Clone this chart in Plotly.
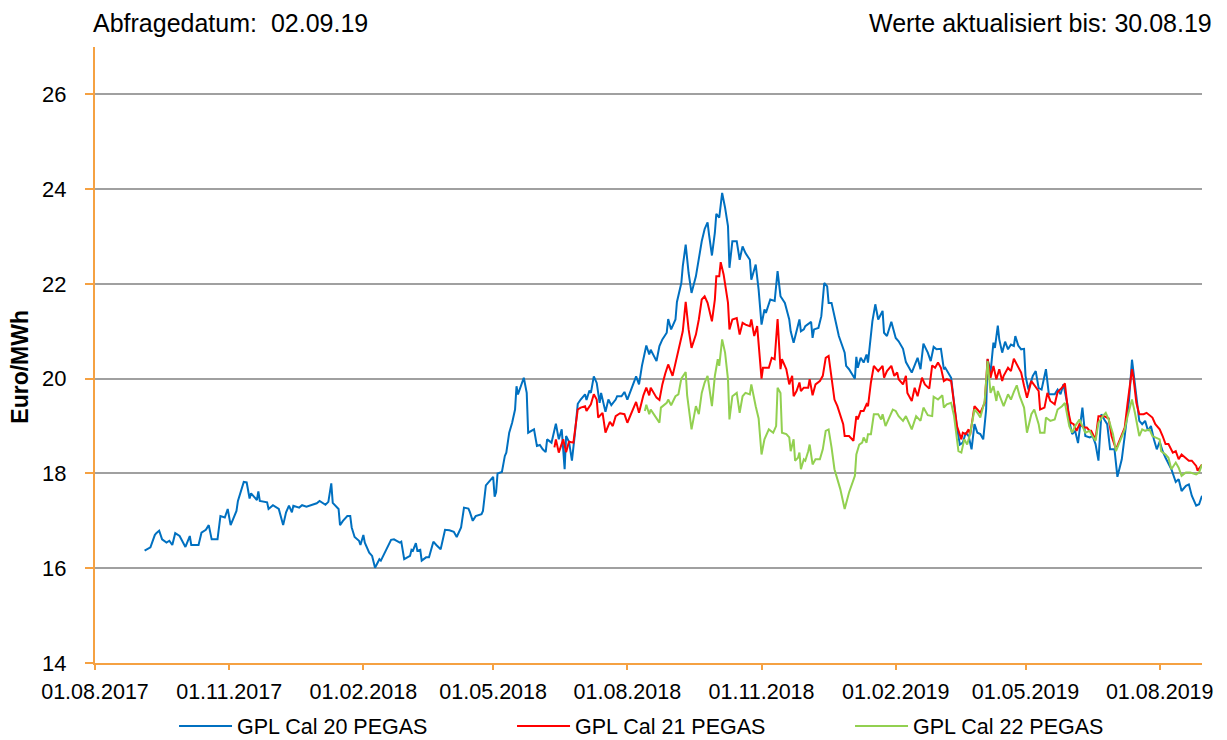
import pandas as pd
import plotly.graph_objects as go

# Days since 01.08.2017 and prices (Euro/MWh)
START_DATE = "2017-08-01"

cal20_days = [34, 38, 41, 42, 44, 46, 49, 51, 53, 55, 58, 62, 65, 66, 71, 73, 76, 78, 80, 84,
              86, 89, 91, 93, 97, 98, 102, 104, 106, 107, 111, 112, 113, 118, 119, 122, 126, 129, 131, 133,
              135, 136, 140, 142, 145, 152, 154, 158, 160, 162, 163, 167, 168, 170, 173, 175, 176, 178, 181, 182,
              184, 185, 188, 190, 192, 195, 196, 200, 203, 205, 209, 210, 212, 216, 217, 218, 220, 221, 223, 224,
              227, 229, 232, 234, 237, 240, 243, 246, 248, 251, 253, 256, 257, 259, 261, 265, 266, 268, 272, 273,
              274, 275, 276, 279, 281, 282, 284, 286, 288, 289, 290, 294, 296, 297, 301, 303, 305, 307, 309, 310,
              313, 316, 318, 320, 322, 323, 325, 327, 329, 331, 333, 336, 337, 339, 340, 342, 344, 346, 347, 349,
              350, 352, 354, 357, 358, 361, 363, 365, 369, 371, 373, 375, 378, 380, 381, 385, 387, 389, 392, 393,
              395, 398, 399, 402, 403, 405, 407, 409, 412, 414, 416, 418, 420, 421, 423, 425, 426, 428, 430, 432,
              434, 435, 437, 440, 442, 444, 446, 449, 450, 453, 455, 457, 459, 460, 463, 466, 468, 470, 473, 476,
              477, 479, 482, 483, 484, 486, 487, 491, 492, 493, 496, 498, 500, 502, 503, 505, 508, 510, 514, 515,
              517, 521, 522, 523, 525, 527, 529, 530, 533, 535, 537, 540, 541, 543, 546, 549, 551, 554, 556, 560,
              564, 566, 568, 571, 573, 575, 577, 580, 582, 583, 587, 589, 591, 593, 595, 597, 599, 601, 603, 605,
              607, 609, 611, 612, 614, 616, 617, 619, 620, 622, 624, 626, 628, 630, 631, 633, 635, 637, 638, 640,
              643, 645, 647, 649, 652, 654, 658, 660, 662, 664, 667, 668, 670, 672, 674, 676, 677, 679, 682, 684,
              686, 688, 690, 692, 694, 696, 699, 701, 704, 706, 709, 711, 714, 716, 718, 720, 722, 724, 726, 728,
              730, 732, 734, 738, 741, 743, 745, 748, 750, 752, 755, 757, 759]
cal20_values = [16.37, 16.44, 16.70, 16.74, 16.79, 16.61, 16.54, 16.58, 16.49, 16.74, 16.68, 16.45, 16.68, 16.49, 16.49, 16.75, 16.81, 16.91, 16.61, 16.61,
                17.10, 17.07, 17.25, 16.91, 17.21, 17.42, 17.82, 17.81, 17.47, 17.58, 17.44, 17.62, 17.42, 17.39, 17.25, 17.33, 17.25, 16.91, 17.18, 17.32,
                17.18, 17.32, 17.28, 17.33, 17.30, 17.37, 17.42, 17.34, 17.40, 17.79, 17.38, 17.25, 16.91, 17.00, 17.10, 17.10, 16.86, 16.66, 16.58, 16.49,
                16.70, 16.54, 16.33, 16.26, 16.01, 16.19, 16.16, 16.42, 16.60, 16.61, 16.54, 16.56, 16.19, 16.26, 16.39, 16.37, 16.53, 16.37, 16.39, 16.16,
                16.23, 16.23, 16.56, 16.49, 16.40, 16.81, 16.80, 16.77, 16.66, 16.86, 17.28, 17.26, 17.19, 17.00, 17.10, 17.14, 17.21, 17.75, 17.88, 17.93,
                17.51, 17.60, 18.00, 18.03, 18.37, 18.44, 18.86, 19.07, 19.35, 19.84, 19.67, 20.02, 19.70, 18.86, 18.93, 18.58, 18.60, 18.51, 18.45, 18.72,
                18.65, 19.05, 18.72, 18.93, 18.09, 18.79, 18.67, 18.27, 18.83, 19.47, 19.56, 19.67, 19.55, 19.75, 19.70, 20.05, 19.91, 19.49, 19.70, 19.42,
                19.30, 19.56, 19.44, 19.56, 19.63, 19.63, 19.72, 19.56, 19.88, 20.05, 19.88, 20.27, 20.70, 20.51, 20.61, 20.37, 20.69, 20.83, 20.97, 21.26,
                21.04, 21.25, 21.62, 22.02, 22.37, 22.83, 22.23, 21.81, 22.16, 22.58, 22.90, 23.16, 23.30, 23.04, 22.60, 23.08, 23.48, 23.40, 23.92, 23.61,
                23.22, 22.34, 22.90, 22.90, 22.51, 22.79, 22.65, 22.51, 22.09, 22.41, 21.88, 21.14, 21.46, 21.39, 21.67, 21.64, 22.27, 21.74, 21.60, 21.25,
                21.00, 20.76, 21.14, 21.25, 21.00, 21.04, 21.11, 21.20, 20.86, 21.04, 21.07, 21.32, 22.02, 21.95, 21.60, 21.60, 21.18, 20.90, 20.55, 20.27,
                20.20, 20.00, 20.46, 20.23, 20.44, 20.34, 20.51, 20.34, 21.21, 21.57, 21.25, 21.43, 20.97, 20.90, 21.20, 20.86, 20.79, 20.63, 20.35, 20.13,
                20.44, 20.20, 20.74, 20.55, 20.37, 20.67, 20.62, 20.63, 20.20, 20.23, 20.02, 19.49, 18.96, 18.61, 18.65, 18.86, 18.79, 18.51, 19.04, 18.86,
                18.83, 18.72, 19.35, 20.41, 20.13, 20.76, 20.65, 21.12, 20.83, 20.55, 20.78, 20.62, 20.72, 20.69, 20.90, 20.70, 20.62, 20.63, 20.06, 19.77,
                20.06, 20.16, 19.80, 19.77, 20.20, 19.67, 19.67, 19.77, 19.67, 19.88, 19.42, 19.11, 18.83, 18.90, 18.64, 19.14, 19.39, 18.79, 18.76, 18.79,
                18.62, 18.27, 19.25, 19.14, 19.04, 18.51, 18.51, 17.93, 18.30, 18.79, 19.56, 20.40, 19.56, 19.11, 19.04, 19.11, 18.90, 19.00, 18.72, 18.51,
                18.67, 18.47, 18.33, 18.09, 17.82, 17.88, 17.63, 17.74, 17.77, 17.53, 17.32, 17.35, 17.53]

cal21_days = [315, 316, 318, 321, 323, 325, 328, 330, 331, 333, 336, 337, 340, 342, 344, 345, 348, 350, 353, 355,
              357, 360, 363, 365, 368, 369, 371, 373, 376, 378, 380, 381, 385, 387, 389, 391, 393, 396, 397, 400,
              403, 405, 407, 409, 412, 414, 416, 418, 420, 423, 425, 426, 428, 429, 431, 434, 435, 437, 440, 442,
              444, 446, 449, 450, 452, 454, 455, 457, 458, 462, 464, 466, 468, 470, 471, 474, 476, 478, 479, 481,
              483, 484, 486, 489, 490, 492, 494, 497, 499, 501, 503, 505, 507, 509, 511, 513, 514, 517, 520, 522,
              523, 525, 527, 529, 530, 532, 534, 537, 540, 541, 543, 546, 548, 550, 551, 554, 556, 557, 560, 562,
              564, 567, 569, 572, 574, 576, 578, 580, 582, 584, 587, 589, 591, 594, 595, 597, 599, 600, 603, 605,
              607, 610, 612, 614, 616, 618, 620, 622, 623, 626, 628, 630, 632, 635, 637, 639, 642, 644, 647, 648,
              651, 653, 655, 658, 660, 663, 665, 667, 669, 671, 673, 675, 678, 680, 682, 683, 686, 688, 692, 695,
              697, 700, 703, 706, 708, 711, 712, 714, 716, 719, 721, 725, 727, 730, 732, 734, 736, 739, 741, 743,
              745, 748, 750, 752, 755, 756, 759]
cal21_values = [18.55, 18.72, 18.44, 18.72, 18.45, 18.67, 18.65, 19.14, 19.35, 19.39, 19.42, 19.32, 19.46, 19.67, 19.56, 19.18, 19.28, 18.86, 19.09, 19.00,
                19.21, 19.27, 19.25, 19.07, 19.30, 19.39, 19.51, 19.28, 19.65, 19.81, 19.65, 19.81, 19.60, 19.55, 19.88, 20.11, 20.30, 20.06, 20.20, 20.55,
                21.00, 21.62, 21.04, 20.65, 20.93, 21.25, 21.67, 21.74, 21.60, 21.21, 21.67, 22.16, 22.16, 22.46, 22.20, 21.60, 21.04, 21.25, 21.28, 20.93,
                21.18, 21.14, 21.11, 21.25, 20.90, 21.11, 20.69, 20.00, 20.23, 20.23, 20.44, 20.41, 21.26, 20.20, 20.41, 20.20, 19.88, 20.06, 19.63, 19.74,
                19.92, 19.74, 19.81, 19.81, 19.99, 19.65, 19.88, 19.95, 20.06, 20.44, 20.48, 20.06, 19.56, 19.42, 19.21, 19.04, 18.79, 18.79, 18.69, 19.21,
                19.14, 19.32, 19.32, 19.46, 19.42, 19.92, 20.27, 20.16, 20.27, 20.02, 20.16, 20.27, 20.06, 20.13, 19.99, 19.88, 20.06, 19.70, 19.53, 19.81,
                19.63, 20.02, 19.88, 19.79, 20.28, 20.23, 20.34, 20.23, 19.95, 19.99, 19.95, 19.42, 19.00, 18.72, 18.86, 18.83, 18.93, 18.81, 19.42, 19.35,
                19.28, 19.49, 20.42, 20.02, 20.27, 19.99, 20.20, 19.95, 20.06, 20.23, 20.16, 20.42, 20.30, 20.13, 19.85, 19.60, 19.95, 19.86, 19.74, 19.35,
                19.39, 19.70, 19.53, 19.46, 19.72, 19.81, 19.90, 19.35, 19.07, 19.04, 18.90, 19.04, 18.97, 18.97, 18.90, 18.90, 18.72, 19.21, 19.21, 19.16,
                18.79, 18.51, 18.72, 18.97, 19.49, 20.20, 20.02, 19.49, 19.25, 19.25, 19.28, 19.18, 19.04, 18.93, 18.79, 18.62, 18.62, 18.44, 18.47, 18.30,
                18.40, 18.33, 18.27, 18.27, 18.16, 18.06, 18.19]

cal22_days = [377, 378, 380, 381, 384, 387, 388, 392, 393, 395, 398, 400, 402, 405, 406, 409, 412, 414, 416, 418,
              420, 421, 423, 425, 427, 428, 430, 432, 434, 435, 437, 440, 442, 444, 446, 449, 450, 453, 455, 457,
              459, 462, 465, 467, 468, 470, 471, 474, 476, 477, 479, 480, 482, 483, 484, 486, 487, 489, 490, 492,
              494, 497, 499, 501, 503, 505, 507, 509, 511, 514, 517, 521, 522, 524, 526, 527, 529, 530, 532, 534,
              537, 539, 540, 542, 545, 547, 549, 551, 554, 556, 560, 563, 566, 568, 571, 574, 575, 578, 581, 582,
              584, 587, 589, 591, 592, 594, 596, 598, 600, 603, 605, 607, 610, 612, 614, 616, 618, 619, 621, 623,
              626, 628, 630, 632, 634, 637, 639, 642, 644, 647, 648, 651, 652, 655, 658, 660, 663, 665, 668, 670,
              672, 675, 677, 679, 682, 683, 686, 688, 691, 693, 695, 698, 700, 703, 706, 708, 711, 713, 715, 716,
              718, 720, 723, 725, 727, 730, 731, 734, 736, 738, 741, 743, 745, 748, 751, 755, 757, 759]
cal22_values = [19.32, 19.45, 19.25, 19.35, 19.21, 19.07, 19.39, 19.49, 19.56, 19.44, 19.63, 19.67, 20.00, 20.14, 19.65, 18.93, 19.42, 19.25, 19.70, 19.92,
                20.06, 19.84, 19.42, 20.06, 20.41, 20.27, 20.83, 20.55, 19.99, 19.14, 19.63, 19.70, 19.28, 19.63, 19.70, 19.67, 19.88, 19.42, 19.16, 18.40,
                18.72, 18.93, 18.86, 19.00, 19.81, 19.70, 18.86, 18.83, 18.76, 18.47, 18.72, 18.27, 18.33, 18.44, 18.09, 18.30, 18.27, 18.47, 18.61, 18.19,
                18.30, 18.30, 18.51, 18.90, 18.93, 18.55, 18.09, 17.88, 17.67, 17.25, 17.60, 17.95, 18.40, 18.61, 18.65, 18.76, 18.65, 18.83, 18.83, 19.25,
                19.25, 19.14, 19.25, 19.00, 19.21, 19.35, 19.32, 19.21, 19.11, 19.21, 18.93, 19.21, 19.11, 19.39, 19.23, 19.21, 19.62, 19.56, 19.65, 19.39,
                19.46, 19.49, 19.21, 18.72, 18.47, 18.44, 18.72, 18.61, 18.83, 19.35, 19.28, 19.18, 19.53, 20.37, 19.70, 19.84, 19.53, 19.74, 19.56, 19.42,
                19.67, 19.56, 19.72, 19.86, 19.63, 19.39, 18.86, 19.25, 19.35, 19.04, 18.86, 18.86, 19.18, 19.11, 19.14, 19.35, 19.42, 19.49, 19.00, 18.86,
                19.00, 19.14, 19.00, 18.86, 18.90, 18.83, 18.69, 19.07, 19.21, 19.28, 19.14, 18.83, 18.47, 18.69, 18.93, 19.21, 19.56, 19.28, 18.90, 18.79,
                18.93, 18.90, 18.93, 18.79, 18.76, 18.72, 18.47, 18.40, 18.33, 18.09, 18.23, 18.12, 17.95, 18.02, 18.02, 17.98, 18.02, 18.19]

series_names = ["GPL Cal 20 PEGAS", "GPL Cal 21 PEGAS", "GPL Cal 22 PEGAS"]
series_colors = ["#0070C0", "#FF0000", "#92D050"]

y_ticks = [14, 16, 18, 20, 22, 24, 26]
query_label = "Abfragedatum:  02.09.19"
updated_label = "Werte aktualisiert bis: 30.08.19"
y_title = "Euro/MWh"
X_END = "2019-08-30"

AXIS_COLOR = "#F5A142"
GRID_COLOR = "#A0A0A0"
FONT = "Liberation Sans, Arial, sans-serif"

# The page adds an 8 px body margin, so the figure is 8 px smaller than the window.
FIG_W, FIG_H = 1219, 732


def to_dates(days):
    return pd.Timestamp(START_DATE) + pd.to_timedelta(days, unit="D")


fig = go.Figure()
for days, vals, name, color in zip(
    [cal20_days, cal21_days, cal22_days],
    [cal20_values, cal21_values, cal22_values],
    series_names, series_colors,
):
    fig.add_trace(go.Scatter(
        x=to_dates(days), y=vals, mode="lines", name=name,
        line=dict(color=color, width=2),
    ))

fig.update_layout(
    width=FIG_W, height=FIG_H,
    margin=dict(l=87, r=25, t=39, b=77, autoexpand=False),
    paper_bgcolor="white", plot_bgcolor="white",
    font=dict(family=FONT, size=20, color="#000000"),
    showlegend=True,
    legend=dict(
        orientation="h", xref="container", yref="container",
        x=0.1362, xanchor="left", y=0.0191, yanchor="middle",
        entrywidth=270, entrywidthmode="pixels",
        font=dict(size=21.5), itemwidth=53, tracegroupgap=0,
        bgcolor="rgba(0,0,0,0)",
    ),
    annotations=[
        dict(text=query_label, xref="paper", yref="paper", x=-0.0027, y=1.0,
             yshift=39, xanchor="left", yanchor="top", borderpad=0, showarrow=False,
             font=dict(size=25)),
        dict(text=updated_label, xref="paper", yref="paper", x=1.0099, y=1.0,
             yshift=39, xanchor="right", yanchor="top", borderpad=0, showarrow=False,
             font=dict(size=25)),
        dict(text="<b>" + y_title + "</b>", xref="paper", yref="paper", x=0.0, y=0.481,
             xshift=-75, xanchor="center", yanchor="middle", textangle=-90,
             showarrow=False, font=dict(size=23)),
    ],
)

fig.update_xaxes(
    range=[pd.Timestamp(START_DATE), pd.Timestamp(X_END)],
    tick0=START_DATE, dtick="M3", tickformat="%d.%m.%Y",
    showgrid=False, zeroline=False, automargin=False,
    showline=True, linecolor=AXIS_COLOR, linewidth=2,
    ticks="outside", ticklen=5, tickwidth=2, tickcolor=AXIS_COLOR,
    tickfont=dict(size=21.5), ticklabelstandoff=3,
)
fig.update_yaxes(
    range=[14, 27], tickvals=y_ticks,
    showgrid=True, gridcolor=GRID_COLOR, gridwidth=2, zeroline=False, automargin=False,
    showline=True, linecolor=AXIS_COLOR, linewidth=2,
    ticks="outside", ticklen=8, tickwidth=2, tickcolor=AXIS_COLOR,
    tickfont=dict(size=22), ticklabelstandoff=14,
)

fig.write_html("out.html")
